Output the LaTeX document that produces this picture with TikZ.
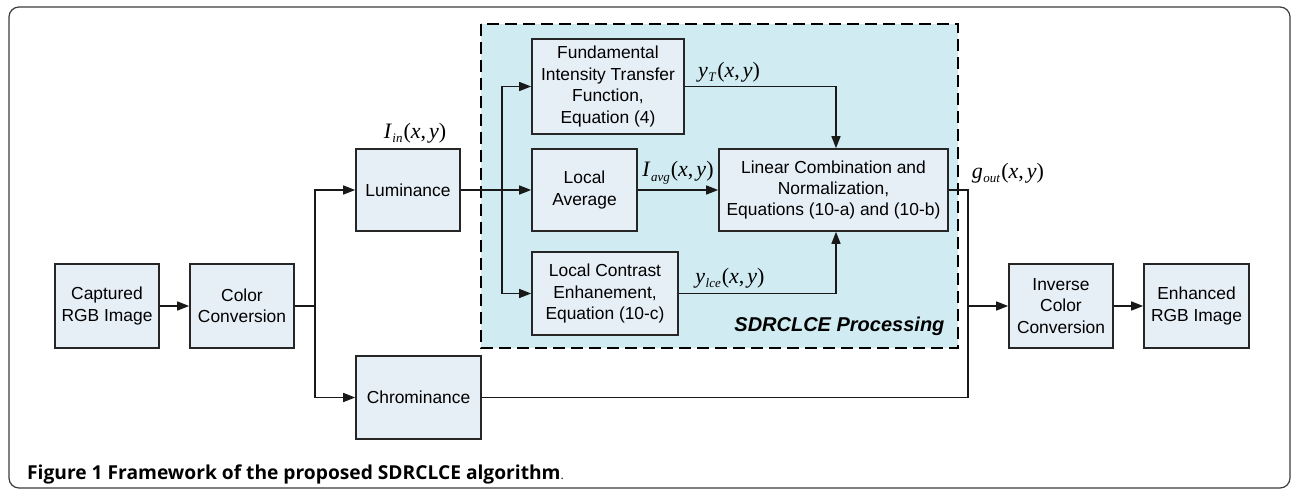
\documentclass[tikz,border=0pt]{standalone}
\usepackage{fontspec}
\setmainfont{Liberation Sans}
\newfontfamily\tms{Liberation Serif}
\newfontfamily\capfont{Open Sans}
\usetikzlibrary{arrows.meta}
\definecolor{boxfill}{RGB}{230,238,246}
\definecolor{regfill}{RGB}{208,236,242}
\definecolor{framec}{RGB}{60,60,60}
\newcommand{\mlab}[2]{{\tms\fontsize{22}{24}\selectfont\textit{#1}\kern0.5pt\raisebox{-0.45ex}{\fontsize{13}{13}\selectfont\textit{#2}}\kern1pt(\textit{x},\kern3pt\textit{y})}}
\tikzset{
  blk/.style={draw=black!85, line width=1.6pt, fill=boxfill, align=center,
    inner sep=0pt, font=\fontsize{17.4}{21.4}\selectfont},
  conn/.style={line width=1.4pt, black!90},
  arr/.style={conn, -{Triangle[length=12pt,width=9pt]}},
  lab/.style={inner sep=0pt}
}
\begin{document}
\begin{tikzpicture}[x=1pt,y=-1pt]
\useasboundingbox (0,0) rectangle (1293,492);
\draw[framec, line width=1.2pt, rounded corners=10pt] (9,7) rectangle (1290,488);
\fill[regfill] (481,24) rectangle (958,348);
\draw[line width=2.2pt, dash pattern=on 12pt off 6pt] (481,24) rectangle (958,348);
\node[anchor=base east, font=\fontsize{20}{22}\selectfont\bfseries\itshape] (proc) at (948,331) {SDRCLCE Processing};

\node[blk, minimum width=104, minimum height=84] (cap) at (107,306) {Captured\\RGB Image};
\node[blk, minimum width=104, minimum height=84] (cc) at (242,306) {Color\\Conversion};
\node[blk, minimum width=104, minimum height=82] (lum) at (408,190) {Luminance};
\node[blk, minimum width=125, minimum height=83] (chr) at (418.5,397.5) {Chrominance};
\node[blk, minimum width=152, minimum height=95] (fit) at (608,86.5) {Fundamental\\Intensity Transfer\\Function,\\Equation (4)};
\node[blk, minimum width=105, minimum height=82] (lavg) at (584.5,190) {Local\\Average};
\node[blk, minimum width=146, minimum height=83] (lce) at (605,293.5) {Local Contrast\\Enhanement,\\Equation (10-c)};
\node[blk, minimum width=229, minimum height=82] (lin) at (833.5,190) {Linear Combination and\\Normalization,\\Equations (10-a) and (10-b)};
\node[blk, minimum width=104, minimum height=84] (inv) at (1061,306) {Inverse\\Color\\Conversion};
\node[blk, minimum width=105, minimum height=84] (enh) at (1196.5,306) {Enhanced\\RGB Image};

\coordinate (split) at (315,306);
\coordinate (br) at (502,190);
\coordinate (j) at (968,306);

\draw[arr] (cap) -- (cc);
\draw[conn] (cc.east) -- (split);
\draw[arr] (split) |- (lum.west);
\draw[arr] (split) |- (chr.west);
\draw[arr] (lum.east) -- (lavg.west);
\draw[arr] (br) |- (fit.west);
\draw[arr] (br) |- (lce.west);
\draw[arr] (fit.east) -| ([xshift=2.5]lin.north);
\draw[arr] (lavg.east) -- (lin.west);
\draw[arr] (lce.east) -| ([xshift=2.5]lin.south);
\draw[conn] (lin.east) -| (j);
\draw[conn] (chr.east) -| (j);
\draw[arr] (j) -- (inv.west);
\draw[arr] (inv) -- (enh);

\node[lab] (lin1) at (415,133) {\mlab{I}{in}};
\node[lab] (lt) at (729,72) {\mlab{y}{T}};
\node[lab] (la) at (678,173) {\mlab{I}{avg}};
\node[lab] (ll) at (730,278) {\mlab{y}{lce}};
\node[lab] (lg) at (1008,173) {\mlab{g}{out}};

\node[anchor=base west, inner sep=0pt, font=\capfont\fontsize{19.2}{22}\selectfont] (capt) at (27,479)
  {\textbf{Figure 1} \textbf{Framework of the proposed SDRCLCE algorithm}{\fontsize{12}{14}\selectfont.}};
\end{tikzpicture}
\end{document}
